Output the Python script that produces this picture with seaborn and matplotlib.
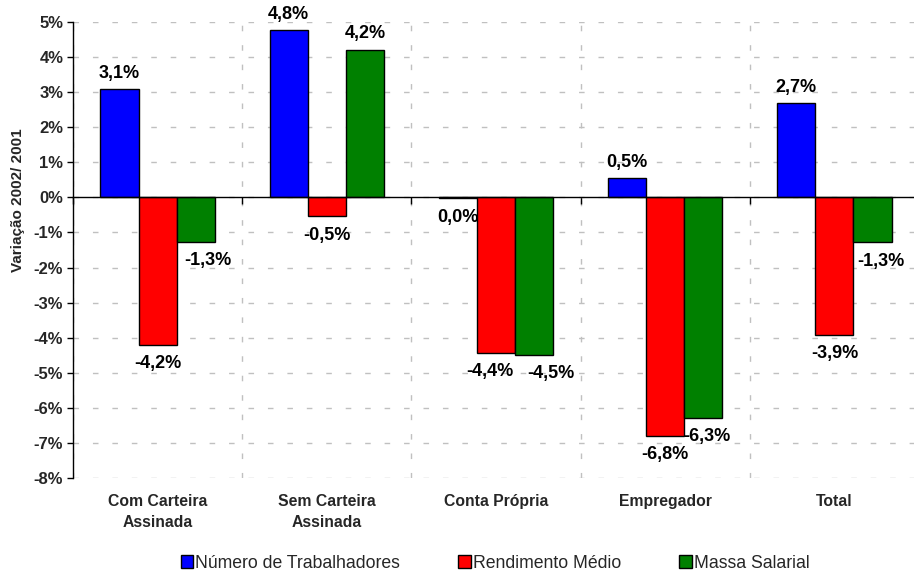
import matplotlib
matplotlib.use("Agg")
import matplotlib.pyplot as plt
import seaborn as sns
import pandas as pd
import numpy as np

categories = ["Com Carteira\nAssinada", "Sem Carteira\nAssinada", "Conta Própria", "Empregador", "Total"]
series = ["Número de Trabalhadores", "Rendimento Médio", "Massa Salarial"]
trabalhadores = [3.09, 4.76, -0.03, 0.54, 2.69]
rendimento = [-4.2, -0.54, -4.43, -6.8, -3.92]
massa = [-1.27, 4.21, -4.5, -6.28, -1.28]
colors = ["#0000FF", "#FF0000", "#008000"]
yticks = list(range(-8, 6))
# horizontal label nudges (px) per series/category, to mimic the original placement
label_dx = [[0, 0, 0, 0, 0], [0, 0, -6, 0, 0], [12, 0, 17, 4, 8]]

df = pd.DataFrame({
    "categoria": categories * 3,
    "serie": sum([[s] * len(categories) for s in series], []),
    "valor": trabalhadores + rendimento + massa,
})

sns.set_theme(style="white")
plt.rcParams["font.family"] = ["Liberation Sans", "DejaVu Sans"]

W, H = 914, 572
fig = plt.figure(figsize=(W / 100, H / 100), dpi=100)
ax = fig.add_axes([73 / W, 1 - 478 / H, (919 - 73) / W, (478 - 22) / H])

sns.barplot(data=df, x="categoria", y="valor", hue="serie", palette=colors,
            order=categories, hue_order=series, width=0.675, gap=0,
            edgecolor="black", linewidth=1.0, saturation=1, ax=ax, legend=True)

ax.set_ylim(-8, 5)
ax.set_xlim(-0.5, len(categories) - 0.5)
ax.set_yticks(yticks)
ax.set_yticklabels([f"{t}%" for t in yticks], fontsize=12, fontweight="bold")
ax.tick_params(axis="y", direction="out", length=4, width=1, color="black", left=True, pad=3)

# category boundaries: vertical grid + small ticks on the zero axis
bounds = np.arange(-0.5, len(categories) + 0.5, 1.0)
ax.set_xticks(bounds, minor=True)
ax.set_xticks([])
ax.tick_params(axis="x", which="minor", direction="out", length=5, width=1, color="black", bottom=True)
ax.grid(True, axis="y", which="major", color="#c0c0c0", linestyle=(0, (4, 10)), linewidth=1)
ax.grid(True, axis="x", which="minor", color="#c0c0c0", linestyle=(0, (4, 10)), linewidth=1)
ax.set_axisbelow(True)

for s in ["top", "right"]:
    ax.spines[s].set_visible(False)
ax.spines["left"].set_color("black")
ax.spines["left"].set_linewidth(1)
ax.spines["bottom"].set_position(("data", 0))
ax.spines["bottom"].set_color("black")
ax.spines["bottom"].set_linewidth(1)
ax.spines["bottom"].set_zorder(5)

ax.set_xlabel("")
ax.set_ylabel("Variação 2002/ 2001", fontsize=11, fontweight="bold")
ax.yaxis.set_label_coords(-0.057, 0.61)

# category labels below the plot
for i, c in enumerate(categories):
    ax.text(i, -0.036, c, transform=ax.get_xaxis_transform(), ha="center", va="top",
            fontsize=11.3, fontweight="bold", linespacing=1.45)

# value labels
for si, cont in enumerate(ax.containers):
    for ci, bar in enumerate(cont):
        v = bar.get_height()
        xc = bar.get_x() + bar.get_width() / 2
        txt = f"{v:.1f}".replace(".", ",") + "%"
        if txt == "-0,0%":
            txt = "0,0%"
        dy = 11.5 if v >= 0 else -13.5
        dx = label_dx[si][ci] * 0.72
        ax.annotate(txt, (xc, v), xytext=(dx, dy), textcoords="offset points",
                    ha="center", va="center", fontsize=13, fontweight="bold", color="black")

handles, labels = ax.get_legend_handles_labels()
ax.legend(handles, labels, loc="center", bbox_to_anchor=(495 / W, 1 - 563 / H),
          bbox_transform=fig.transFigure, ncol=3, frameon=False, fontsize=12.7,
          handlelength=0.7, handleheight=0.7, handletextpad=0.12, columnspacing=3.3,
          borderaxespad=0)

fig.savefig("out.png", dpi=100)
